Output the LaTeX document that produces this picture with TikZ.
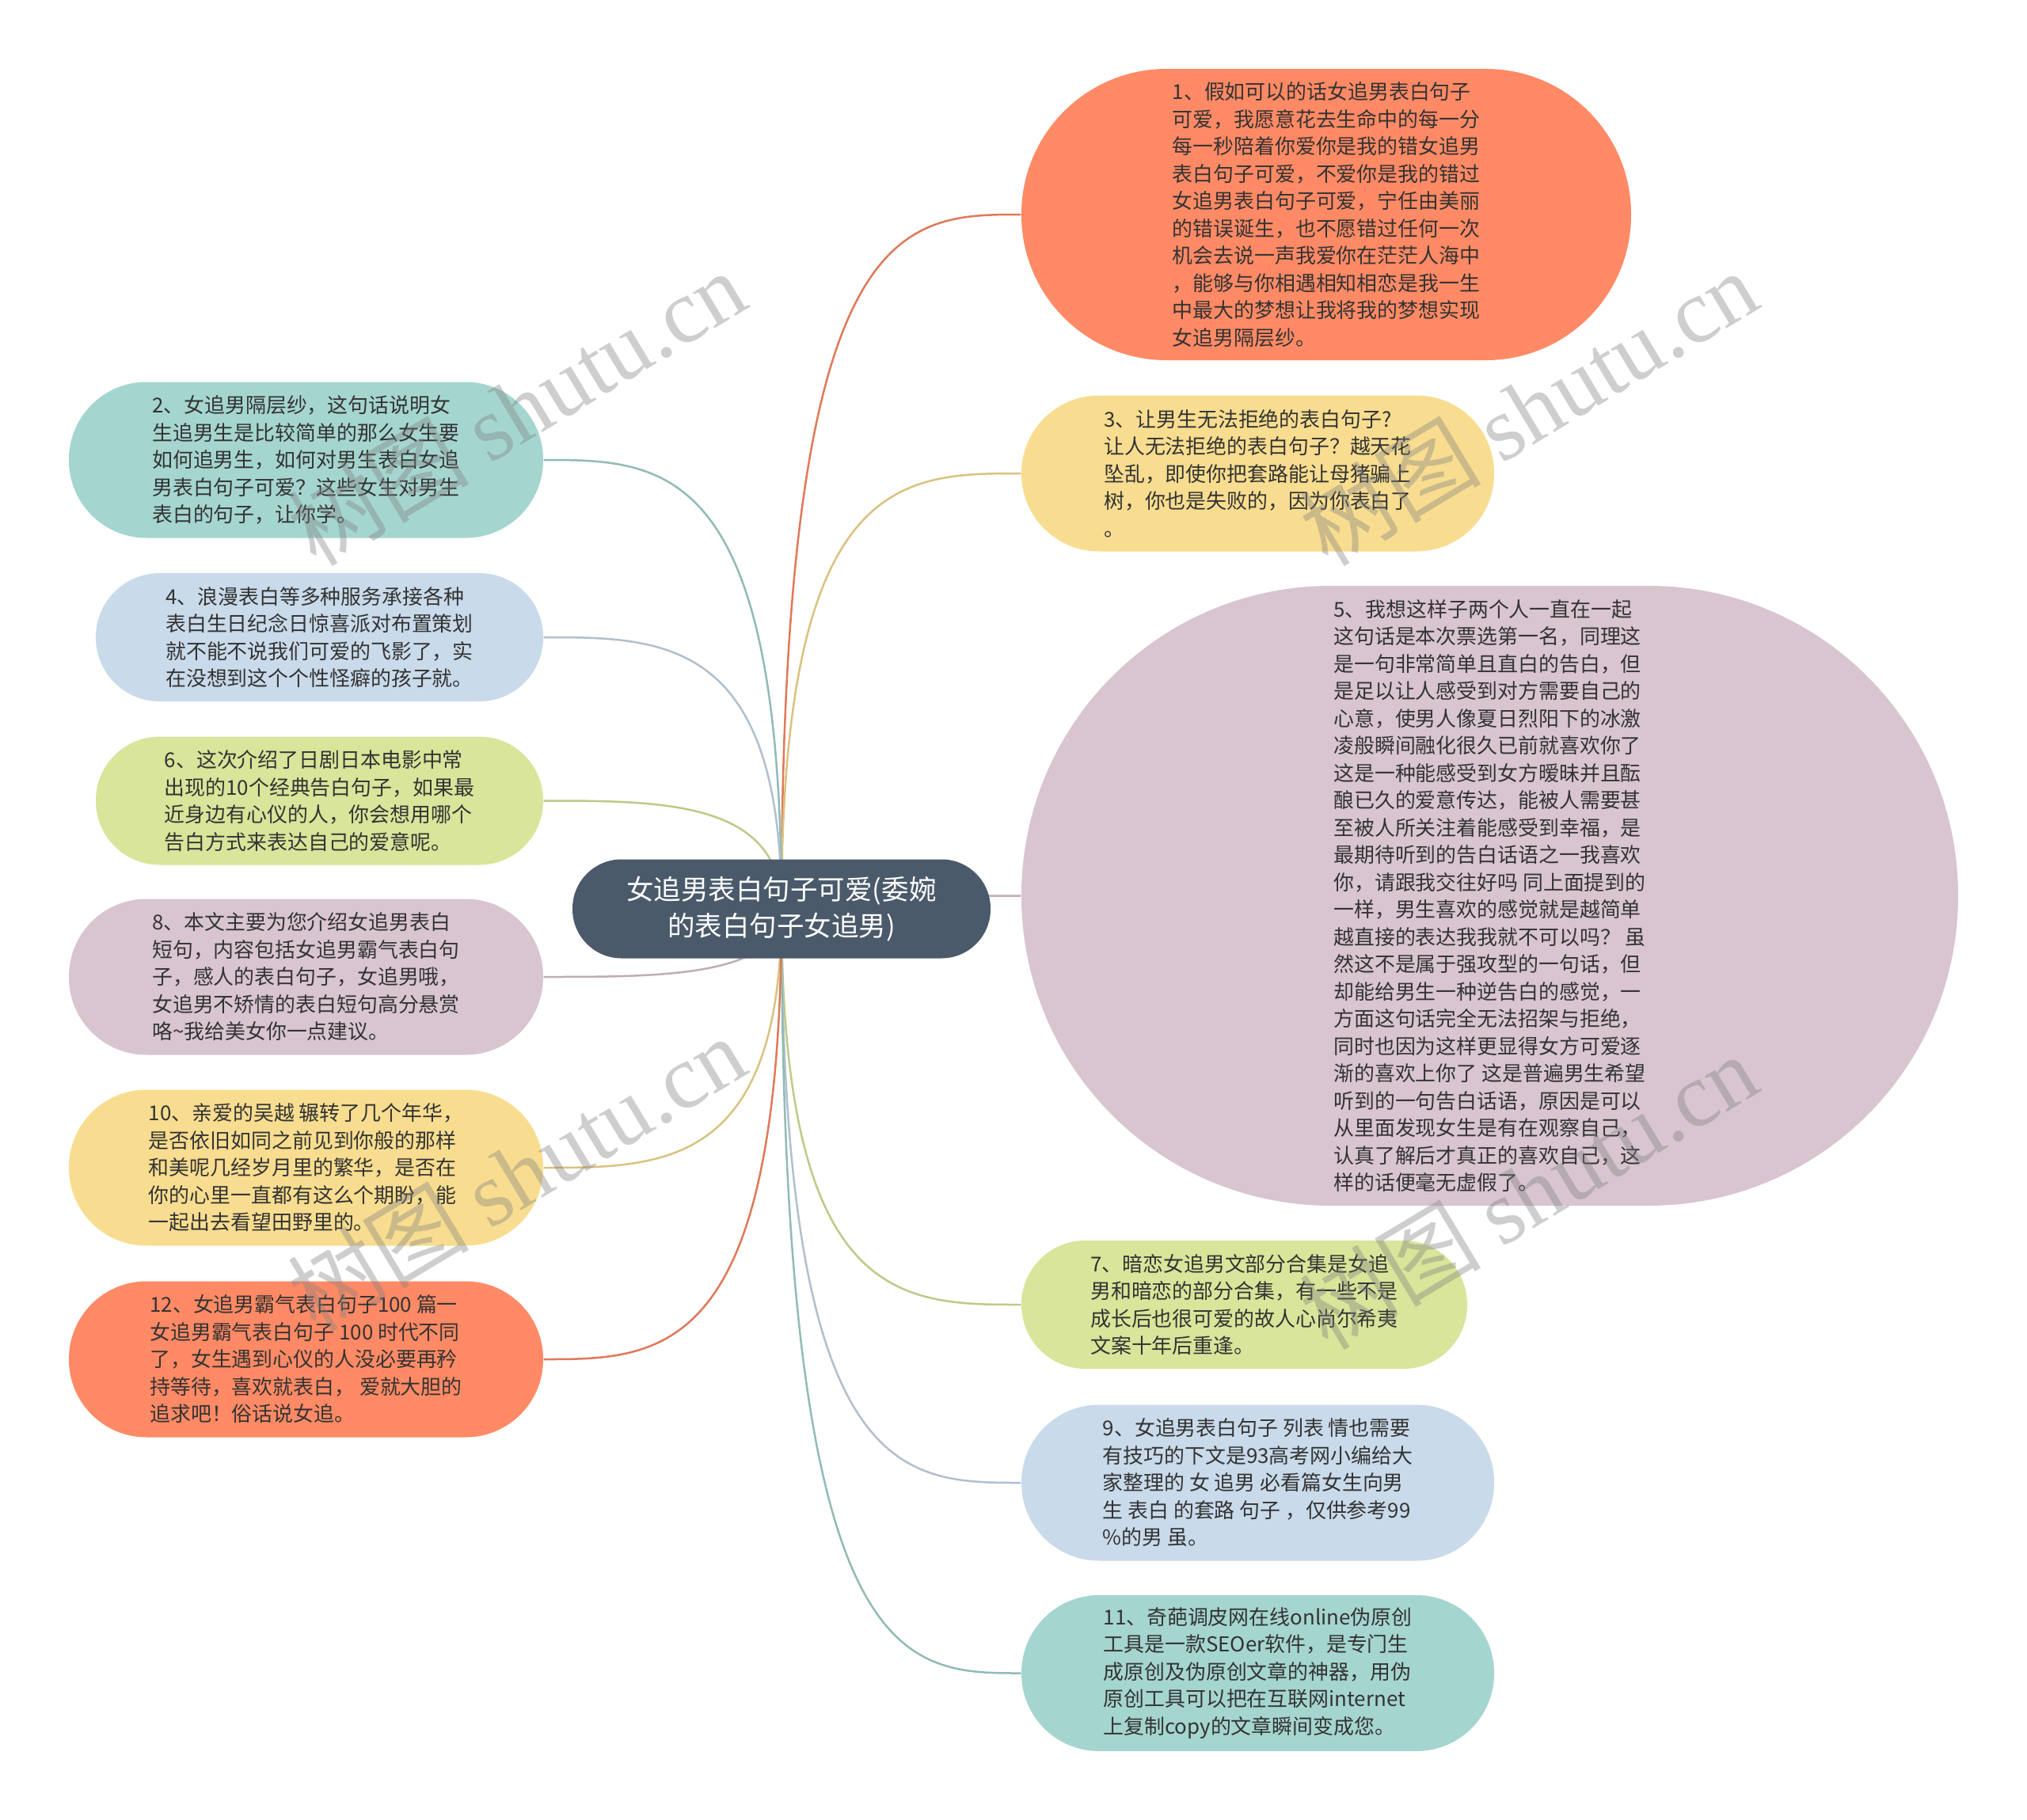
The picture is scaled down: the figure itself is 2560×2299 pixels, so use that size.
\documentclass[tikz,border=0pt]{standalone}
\usepackage{fontspec}
\setmainfont{Noto Sans CJK SC}
\newfontfamily\wmserif{Liberation Serif}
\newfontfamily\wmcjk{Noto Sans CJK SC}
\usetikzlibrary{backgrounds,calc}
\definecolor{csal}{HTML}{FF8A65}
\definecolor{cyel}{HTML}{F8DD90}
\definecolor{cpink}{HTML}{D8C5D0}
\definecolor{cgrn}{HTML}{D8E59A}
\definecolor{cblue}{HTML}{C9DAEA}
\definecolor{cteal}{HTML}{A5D5CF}
\definecolor{chub}{HTML}{4A5A6B}
\definecolor{ctxt}{HTML}{333333}
\begin{document}
\begin{tikzpicture}[x=0.3pt,y=-0.3pt,
  leaf/.style={draw=none, inner sep=0pt, align=left, text=ctxt,
    font=\fontsize{7.77pt}{10.35pt}\selectfont},
  big/.style={leaf, minimum width=179.7pt, minimum height=59.1pt, rounded corners=29.4pt},
  small/.style={leaf, minimum width=169.5pt, minimum height=48.6pt, rounded corners=24.2pt},
  hubnode/.style={draw=none, inner sep=0pt, fill=chub, text=white, align=center,
    font=\fontsize{10.35pt}{13.8pt}\selectfont, minimum width=158.4pt,
    minimum height=37.5pt, rounded corners=18.6pt},
  link/.style={line width=0.75pt},
  wmark/.style={rotate=31, text=gray, opacity=0.38, inner sep=0pt,
    font=\fontsize{34.5pt}{36pt}\selectfont}]

\useasboundingbox (0,0) rectangle (2560,2299);

% central topic
\node[hubnode] (hub) at (987,1148) {女追男表白句子可爱(委婉\\的表白句子女追男)};

% right side
\node[leaf, fill=csal, minimum width=231pt, minimum height=110.4pt, rounded corners=55pt] (n1) at (1675,271) {1、假如可以的话女追男表白句子\\可爱，我愿意花去生命中的每一分\\每一秒陪着你爱你是我的错女追男\\表白句子可爱，不爱你是我的错过\\女追男表白句子可爱，宁任由美丽\\的错误诞生，也不愿错过任何一次\\机会去说一声我爱你在茫茫人海中\\，能够与你相遇相知相恋是我一生\\中最大的梦想让我将我的梦想实现\\女追男隔层纱。};

\node[big, fill=cyel, minimum width=179.1pt] (n3) at (1588.5,598) {3、让男生无法拒绝的表白句子?\\让人无法拒绝的表白句子？越天花\\坠乱，即使你把套路能让母猪骗上\\树，你也是失败的，因为你表白了\\。};

\node[leaf, fill=cpink, minimum width=354.9pt, minimum height=234.9pt, rounded corners=117.3pt] (n5) at (1881.5,1131.5) {5、我想这样子两个人一直在一起\\这句话是本次票选第一名，同理这\\是一句非常简单且直白的告白，但\\是足以让人感受到对方需要自己的\\心意，使男人像夏日烈阳下的冰激\\凌般瞬间融化很久已前就喜欢你了\\这是一种能感受到女方暧昧并且酝\\酿已久的爱意传达，能被人需要甚\\至被人所关注着能感受到幸福，是\\最期待听到的告白话语之一我喜欢\\你，请跟我交往好吗 同上面提到的\\一样，男生喜欢的感觉就是越简单\\越直接的表达我我就不可以吗？ 虽\\然这不是属于强攻型的一句话，但\\却能给男生一种逆告白的感觉，一\\方面这句话完全无法招架与拒绝，\\同时也因为这样更显得女方可爱逐\\渐的喜欢上你了 这是普遍男生希望\\听到的一句告白话语，原因是可以\\从里面发现女生是有在观察自己，\\认真了解后才真正的喜欢自己，这\\样的话便毫无虚假了。};

\node[small, fill=cgrn, minimum width=168.9pt] (n7) at (1571.5,1648) {7、暗恋女追男文部分合集是女追\\男和暗恋的部分合集，有一些不是\\成长后也很可爱的故人心尚尔希夷\\文案十年后重逢。};

\node[big, fill=cblue, minimum width=179.1pt] (n9) at (1588.5,1873) {9、女追男表白句子 列表 情也需要\\有技巧的下文是93高考网小编给大\\家整理的 女 追男 必看篇女生向男\\生 表白 的套路 句子 ，仅供参考99\\\%的男 虽。};

\node[big, fill=cteal, minimum width=179.1pt] (n11) at (1588.5,2113.5) {11、奇葩调皮网在线online伪原创\\工具是一款SEOer软件，是专门生\\成原创及伪原创文章的神器，用伪\\原创工具可以把在互联网internet\\上复制copy的文章瞬间变成您。};

% left side
\node[big, fill=cteal] (n2) at (386.5,581) {2、女追男隔层纱，这句话说明女\\生追男生是比较简单的那么女生要\\如何追男生，如何对男生表白女追\\男表白句子可爱？这些女生对男生\\表白的句子，让你学。};

\node[small, fill=cblue] (n4) at (403.5,805) {4、浪漫表白等多种服务承接各种\\表白生日纪念日惊喜派对布置策划\\就不能不说我们可爱的飞影了，实\\在没想到这个个性怪癖的孩子就。};

\node[small, fill=cgrn] (n6) at (403.5,1011.5) {6、这次介绍了日剧日本电影中常\\出现的10个经典告白句子，如果最\\近身边有心仪的人，你会想用哪个\\告白方式来表达自己的爱意呢。};

\node[big, fill=cpink] (n8) at (386.5,1234) {8、本文主要为您介绍女追男表白\\短句，内容包括女追男霸气表白句\\子，感人的表白句子，女追男哦，\\女追男不矫情的表白短句高分悬赏\\咯\char"7E 我给美女你一点建议。};

\node[big, fill=cyel] (n10) at (386.5,1475) {10、亲爱的吴越 辗转了几个年华，\\是否依旧如同之前见到你般的那样\\和美呢几经岁月里的繁华，是否在\\你的心里一直都有这么个期盼，能\\一起出去看望田野里的。};

\node[big, fill=csal] (n12) at (386.5,1717) {12、女追男霸气表白句子100 篇一\\女追男霸气表白句子 100 时代不同\\了，女生遇到心仪的人没必要再矜\\持等待，喜欢就表白， 爱就大胆的\\追求吧！俗话说女追。};

% connectors behind
\begin{pgfonlayer}{background}
\fill[white] (0,0) rectangle (2560,2299);
\foreach \n/\c in {n1/csal,n3/cyel,n5/cpink,n7/cgrn,n9/cblue,n11/cteal}{
  \draw[link, draw=\c!88!black] (hub.center) .. controls (hub.center |- \n.west) and ($(hub.center |- \n.west)!0.5!(\n.west)$) .. (\n.west);
}
\foreach \n/\c in {n2/cteal,n4/cblue,n6/cgrn,n8/cpink,n10/cyel,n12/csal}{
  \draw[link, draw=\c!88!black] (hub.center) .. controls (hub.center |- \n.east) and ($(hub.center |- \n.east)!0.5!(\n.east)$) .. (\n.east);
}
\end{pgfonlayer}

% watermarks
\node[wmark] (wm1) at (652,515) {\wmcjk 树图 \wmserif shutu.cn};
\node[wmark] (wm2) at (1930,515) {\wmcjk 树图 \wmserif shutu.cn};
\node[wmark] (wm3) at (652,1482) {\wmcjk 树图 \wmserif shutu.cn};
\node[wmark] (wm4) at (1930,1505) {\wmcjk 树图 \wmserif shutu.cn};
\end{tikzpicture}
\end{document}
